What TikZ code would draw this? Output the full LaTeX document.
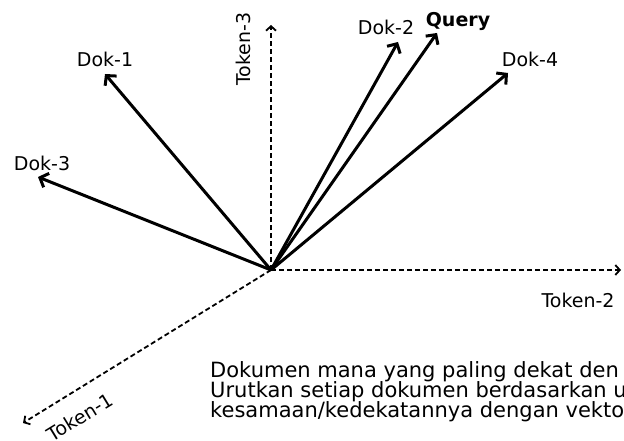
\documentclass[tikz,border=0pt]{standalone}
\usepackage{fontspec}
\setmainfont{DejaVu Sans}
\usetikzlibrary{arrows.meta}
\begin{document}
\begin{tikzpicture}[x=1pt,y=-1pt,
  lbl/.style={font=\fontsize{19}{21}\selectfont, inner sep=0pt},
  body/.style={font=\fontsize{21}{21}\selectfont, inner sep=0pt, anchor=base west},
  vec/.style={line width=3pt, -{Straight Barb[length=7pt,width=15pt]}},
  axis/.style={line width=1.8pt, dash pattern=on 5pt off 3pt,
               -{Straight Barb[length=4.5pt,width=10pt]}}]
\useasboundingbox (0,0) rectangle (624,441);
\clip (0,0) rectangle (624,441);

% origin and axis ends
\coordinate (O) at (271,270);
\coordinate (t1) at (23,423);
\coordinate (t2) at (621,270);
\coordinate (t3) at (271,25);

% vector ends
\coordinate (d1) at (105,74);
\coordinate (d2) at (398,42);
\coordinate (d3) at (38,177);
\coordinate (d4) at (508,73);
\coordinate (q)  at (437,33);

% dashed token axes
\draw[axis] (O) -- (t1);
\draw[axis] (O) -- (t2);
\draw[axis] (O) -- (t3);

% document and query vectors
\draw[vec] (O) -- (d1);
\draw[vec] (O) -- (d2);
\draw[vec] (O) -- (d3);
\draw[vec] (O) -- (d4);
\draw[vec] (O) -- (q);

% axis labels
\node[lbl, rotate=31.5] (lt1) at (80,417) {Token-1};
\node[lbl, anchor=base] (lt2) at (578,307) {Token-2};
\node[lbl, anchor=base, rotate=90] (lt3) at (250,49) {Token-3};

% vector labels
\node[lbl, anchor=base] (ld1) at (105,67) {Dok-1};
\node[lbl, anchor=base] (ld2) at (386,35) {Dok-2};
\node[lbl, anchor=base] (ld3) at (42,171) {Dok-3};
\node[lbl, anchor=base] (ld4) at (530,67) {Dok-4};
\node[lbl, anchor=base, font=\fontsize{19}{21}\selectfont\bfseries] (lq) at (458,27) {Query};

% question text
\node[body] (b1) at (210,377) {Dokumen mana yang paling dekat den};
\node[body] (b2) at (210,397) {Urutkan setiap dokumen berdasarkan u};
\node[body] (b3) at (210,417) {kesamaan/kedekatannya dengan vekto};
\end{tikzpicture}
\end{document}
